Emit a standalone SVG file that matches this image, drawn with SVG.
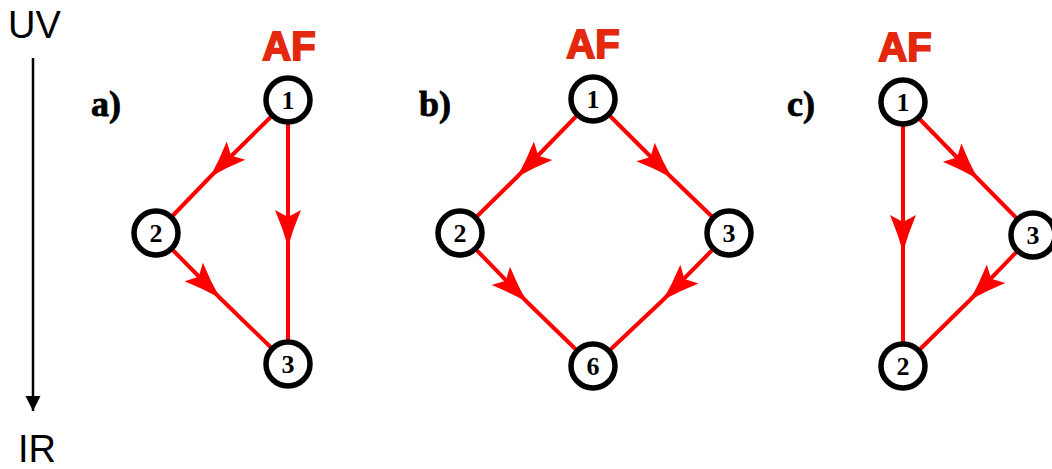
<svg xmlns="http://www.w3.org/2000/svg" width="1052" height="469" viewBox="0 0 1052 469">
<style>
.n circle{fill:#fff;stroke:#000;stroke-width:5.5}
.n text{font-family:"Liberation Serif",serif;font-weight:bold;font-size:26px;text-anchor:middle;fill:#000}
.e{fill:none;stroke:#ff0000;stroke-width:4;marker-mid:url(#ah)}
.af{font-family:"Liberation Sans",sans-serif;font-weight:bold;font-size:40px;fill:#e4280e;stroke:#e4280e;stroke-width:1.8;text-anchor:middle}
.lbl{font-family:"Liberation Serif",serif;font-weight:bold;font-size:36px;fill:#000;stroke:#000;stroke-width:0.8}
.ax{font-family:"Liberation Sans",sans-serif;font-size:38px;fill:#000}
</style>
<defs>
<marker id="ah" markerUnits="userSpaceOnUse" orient="auto" markerWidth="80" markerHeight="80" viewBox="-50 -40 80 80" refX="0" refY="0" overflow="visible">
<path d="M0,0 Q-18,-5 -37,-13 L-30,0 L-37,13 Q-18,5 0,0 Z" fill="#ff0000"/>
</marker>
<marker id="bh" markerUnits="userSpaceOnUse" orient="auto" viewBox="-16 -9 18 18" markerWidth="18" markerHeight="18" refX="0" refY="0" overflow="visible">
<path d="M0,0 L-15,-7.5 L-15,7.5 Z" fill="#000"/>
</marker>
</defs>
<g id="axis">
<text class="ax" x="8" y="38">UV</text>
<line x1="33" y1="58" x2="33" y2="411" stroke="#000" stroke-width="2.5" marker-end="url(#bh)"/>
<text class="ax" x="18" y="462">IR</text>
</g>
<g id="titles">
<text class="af" x="289" y="60">AF</text>
<text class="af" x="593" y="58">AF</text>
<text class="af" x="905" y="61">AF</text>
<text class="lbl" x="91" y="116">a)</text>
<text class="lbl" x="419" y="116">b)</text>
<text class="lbl" x="787" y="116">c)</text>
</g>
<g id="connectors">
<polyline class="e" points="288,100 210,177 156,233"/>
<polyline class="e" points="288,100 288,247 288,364"/>
<polyline class="e" points="156,233 220,298 288,364"/>
<polyline class="e" points="593,99 517,177 460,233"/>
<polyline class="e" points="593,99 672,178 729,233"/>
<polyline class="e" points="460,233 527,302 593,366"/>
<polyline class="e" points="729,233 663,300 593,366"/>
<polyline class="e" points="903,102 903,252 903,366"/>
<polyline class="e" points="903,102 978,179 1033,235"/>
<polyline class="e" points="1033,235 970,300 903,366"/>
</g>
<g id="a1" class="n"><circle cx="288" cy="100" r="22"/><text x="288" y="109">1</text></g>
<g id="a2" class="n"><circle cx="156" cy="233" r="22"/><text x="156" y="242">2</text></g>
<g id="a3" class="n"><circle cx="288" cy="364" r="22"/><text x="288" y="373">3</text></g>
<g id="b1" class="n"><circle cx="593" cy="99" r="22"/><text x="593" y="108">1</text></g>
<g id="b2" class="n"><circle cx="460" cy="233" r="22"/><text x="460" y="242">2</text></g>
<g id="b3" class="n"><circle cx="729" cy="233" r="22"/><text x="729" y="242">3</text></g>
<g id="b6" class="n"><circle cx="593" cy="366" r="22"/><text x="593" y="375">6</text></g>
<g id="c1" class="n"><circle cx="903" cy="102" r="22"/><text x="903" y="111">1</text></g>
<g id="c3" class="n"><circle cx="1033" cy="235" r="22"/><text x="1033" y="244">3</text></g>
<g id="c2" class="n"><circle cx="903" cy="366" r="22"/><text x="903" y="375">2</text></g>
</svg>
